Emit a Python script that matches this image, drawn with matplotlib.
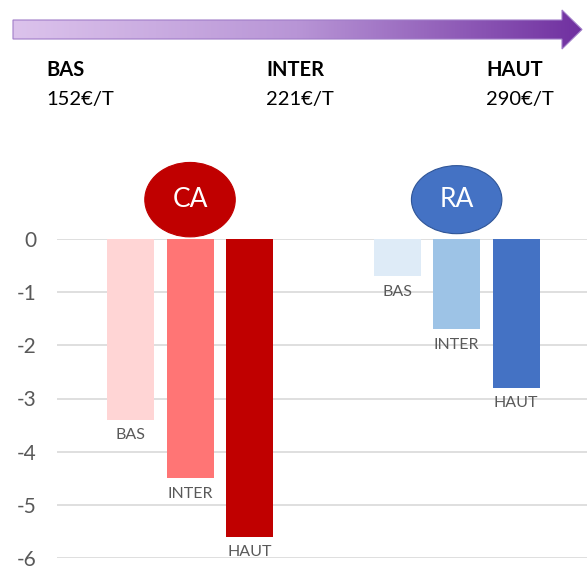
import numpy as np
import matplotlib
matplotlib.use("Agg")
import matplotlib.pyplot as plt
from matplotlib.patches import Ellipse, Polygon
from matplotlib.colors import LinearSegmentedColormap

plt.rcParams['font.family'] = ['Lato', 'DejaVu Sans']

# data
niveaux = ["BAS", "INTER", "HAUT"]
prix = ["152€/T", "221€/T", "290€/T"]
ca_vals = [-3.4, -4.5, -5.6]
ra_vals = [-0.7, -1.7, -2.8]
ca_colors = ["#FFD5D5", "#FF7575", "#C00000"]
ra_colors = ["#DEEBF7", "#9DC3E6", "#4472C4"]
ca_pos = [0, 1, 2]
ra_pos = [4.48, 5.48, 6.48]
yticks = [0, -1, -2, -3, -4, -5, -6]

W, H = 587, 568
fig = plt.figure(figsize=(W / 100, H / 100), dpi=100)

# main bar chart
ax = fig.add_axes([57 / W, 10 / H, 1 - 57 / W, 319 / H])
ax.set_ylim(-6, 0)
ax.set_xlim(-1.235, 7.67)
ax.set_yticks(yticks)
ax.set_yticklabels([str(t) for t in yticks], fontsize=15, color="#595959")
ax.tick_params(axis="y", length=0, pad=15)
ax.set_xticks([])
for s in ax.spines.values():
    s.set_visible(False)
ax.grid(axis="y", color="#D9D9D9", linewidth=1.2)
ax.set_axisbelow(True)

bw = 0.79
for pos, vals, cols in [(ca_pos, ca_vals, ca_colors), (ra_pos, ra_vals, ra_colors)]:
    ax.bar(pos, vals, width=bw, color=cols, zorder=2)
    for x, v, lab in zip(pos, vals, niveaux):
        ax.annotate(lab, (x, v), xytext=(0, -6), textcoords="offset points",
                    ha="center", va="top", fontsize=11.5, color="#595959",
                    annotation_clip=False)

# group bubbles
for pos, name, fc, ec, h in [(ca_pos, "CA", "#C00000", "#C00000", 1.40),
                             (ra_pos, "RA", "#4472C4", "#2F5597", 1.28)]:
    cx = np.mean(pos)
    el = Ellipse((cx, 0.74), 1.52, h, facecolor=fc, edgecolor=ec,
                 linewidth=0.8, clip_on=False, zorder=3)
    ax.add_patch(el)
    ax.text(cx, 0.74, name, ha="center", va="center", fontsize=19,
            color="white", zorder=4)

# gradient arrow on top
ov = fig.add_axes([0, 0, 1, 1], facecolor="none")
ov.set_xlim(0, W)
ov.set_ylim(H, 0)
ov.axis("off")
cmap = LinearSegmentedColormap.from_list("violet", ["#DCC3EC", "#B895D6", "#7030A0"])
grad = np.linspace(0, 1, 256).reshape(1, -1)
img = ov.imshow(grad, cmap=cmap, extent=[13, 582, 49, 10], aspect="auto")
arrow = Polygon([[13, 20], [562, 20], [562, 10], [582, 29.5], [562, 49],
                 [562, 39], [13, 39]], closed=True, facecolor="none",
                edgecolor="#A07CC8", linewidth=0.8)
ov.add_patch(arrow)
img.set_clip_path(arrow)

for x, niv, p in zip([46, 266, 486], niveaux, prix):
    ov.text(x, 76, niv, fontsize=14.5, fontweight="bold", color="black", va="baseline")
    ov.text(x, 105, p, fontsize=14.5, color="black", va="baseline")

fig.savefig("out.png", dpi=100)
